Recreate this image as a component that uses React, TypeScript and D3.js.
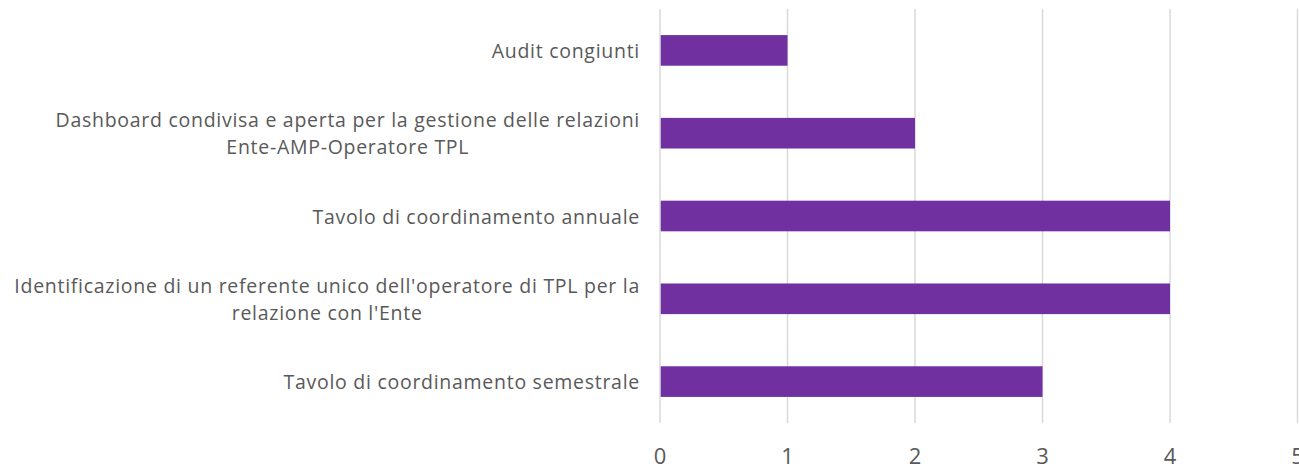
import React from "react";
import * as d3 from "d3";

const categories: string[][] = [
  ["Audit congiunti"],
  ["Dashboard condivisa e aperta per la gestione delle relazioni", "Ente-AMP-Operatore TPL"],
  ["Tavolo di coordinamento annuale"],
  ["Identificazione di un referente unico dell'operatore di TPL per la", "relazione con l'Ente"],
  ["Tavolo di coordinamento semestrale"],
];
const values: number[] = [1, 2, 4, 4, 3];
const ticks: number[] = [0, 1, 2, 3, 4, 5];

const W = 1299;
const H = 466;
const FONT = "'Open Sans', sans-serif";
const FS = 19.5;
const LS = 0.72;

let ctx: CanvasRenderingContext2D | null = null;
function measure(s: string): number {
  if (!ctx) ctx = document.createElement("canvas").getContext("2d");
  if (!ctx) return s.length * FS * 0.5;
  ctx.font = `${FS}px 'Open Sans'`;
  return ctx.measureText(s).width + LS * s.length;
}

export default function App() {
  const x = d3.scaleLinear().domain([0, 5]).range([660, 1297.5]);
  const idx = categories.map((_, i) => String(i));
  const y = d3.scaleBand().domain(idx).range([9, 423]).paddingInner(0.63).paddingOuter(0.315);
  const band = d3.scaleBand().domain(idx).range([9, 423]);
  const lineH = 27;
  const right = 640;
  return (
    <svg width={W} height={H} style={{ position: "absolute", left: 0, top: 0 }}>
      <rect width={W} height={H} fill="#fff" />
      {ticks.map((t) => (
        <line key={t} x1={x(t)} x2={x(t)} y1={9} y2={423} stroke="#d9d9d9" strokeWidth={1.5} />
      ))}
      {values.map((v, i) => (
        <rect key={i} x={x(0) + 0.75} y={y(String(i))!} width={x(v) - x(0) - 0.75} height={y.bandwidth()} fill="#7030a0" />
      ))}
      {categories.map((lines, i) => {
        const cy = band(String(i))! + band.bandwidth() / 2;
        const start = cy - ((lines.length - 1) * lineH) / 2;
        const bw = Math.max(...lines.map(measure));
        const cx = right - bw / 2;
        return (
          <text key={i} textAnchor="middle" fontFamily={FONT} fontSize={FS} fill="#595959" letterSpacing={LS}>
            {lines.map((l, j) => (
              <tspan key={j} x={cx} y={start + j * lineH} dominantBaseline="central">
                {l}
              </tspan>
            ))}
          </text>
        );
      })}
      {ticks.map((t) => (
        <text key={"l" + t} x={x(t)} y={455} textAnchor="middle" dominantBaseline="central" fontFamily={FONT} fontSize={22} fill="#595959">
          {t}
        </text>
      ))}
    </svg>
  );
}
